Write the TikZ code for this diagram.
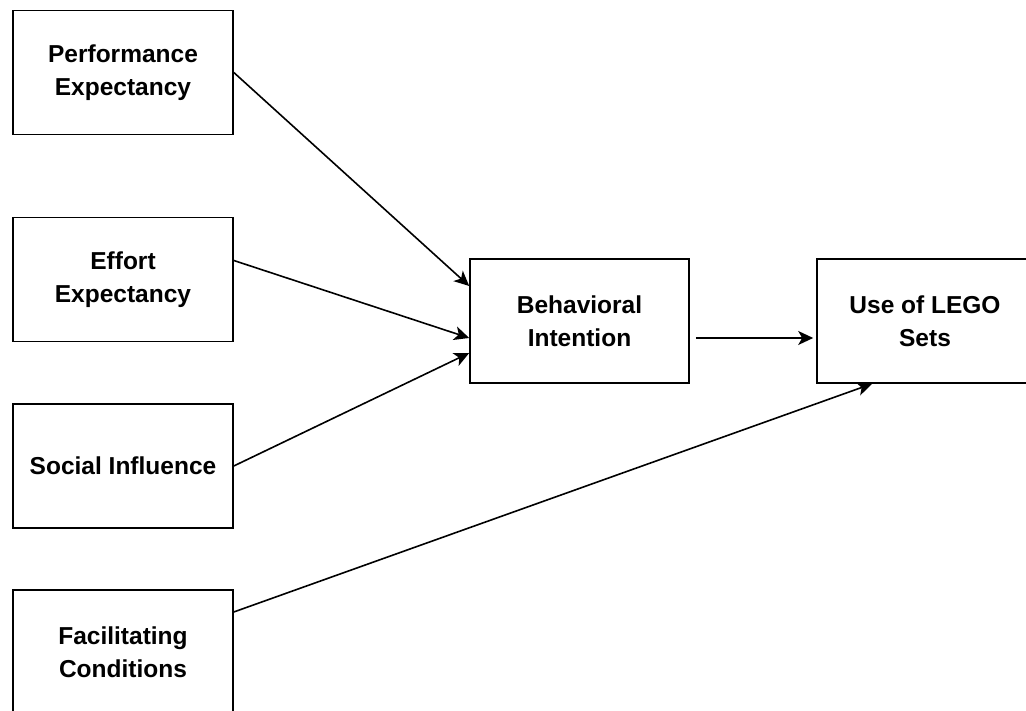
\documentclass[tikz,border=0pt]{standalone}
\usepackage{fontspec}
\setmainfont{Liberation Sans}
\usetikzlibrary{arrows.meta}

\begin{document}
\begin{tikzpicture}[x=1pt, y=1pt,
		construct/.style={draw, line width=1.6pt, minimum width=220pt, minimum height=124pt, align=center, inner sep=0pt, font=\fontsize{24.5}{33}\selectfont\bfseries},
		path/.style={line width=1.6pt, -{Stealth[length=15pt, width=14pt, inset=4pt]}}]
		\clip (0, 0) rectangle (1026, 711);
		\fill [white] (0, 0) rectangle (1026, 711);
		
		\node [construct] (pe) at (123, 638.5) {Performance\\Expectancy};
		\node [construct] (ee) at (123, 431.5) {Effort\\Expectancy};
		\node [construct] (si) at (123, 245) {Social Influence};
		\node [construct] (fc) at (123, 59) {Facilitating\\Conditions};
		
		\node [construct, minimum width=219pt] (bi) at (579.5, 390) {Behavioral\\Intention};
		\node [construct, minimum width=216pt] (use) at (925, 390) {Use of LEGO\\Sets};
		
		\draw [path] (pe.east) -- ([yshift=35pt]bi.west);
		\draw [path] ([yshift=19pt]ee.east) -- ([yshift=-17pt]bi.west);
		\draw [path] (si.east) -- ([yshift=-32pt]bi.west);
		\draw [path] ([xshift=6pt, yshift=-17pt]bi.east) -- ([xshift=-3pt, yshift=-17pt]use.west);
		\draw [path] ([yshift=40pt]fc.east) -- ([xshift=-53pt]use.south);
\end{tikzpicture}
\end{document}
